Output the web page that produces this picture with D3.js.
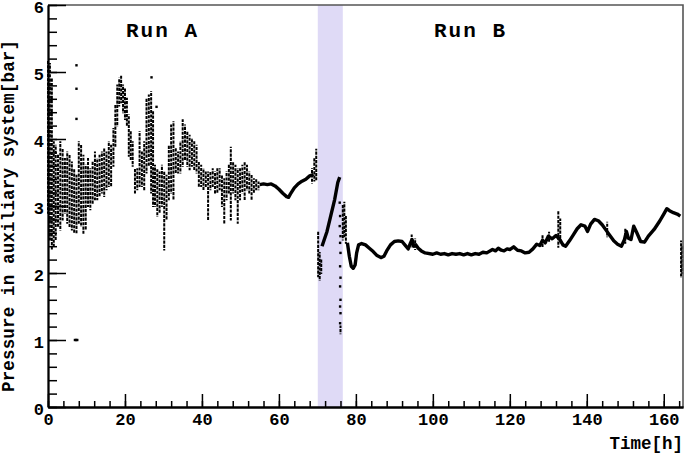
<!DOCTYPE html>
<html>
<head>
<meta charset="utf-8">
<script src="https://cdn.jsdelivr.net/npm/d3@7"></script>
<style>
  body { margin: 0; background: #fff; }
  svg { display: block; }
</style>
</head>
<body>
<div id="chart"></div>
<script>
// time window of the second gas filling (shaded band), hours
const bandRange = [70.1, 76.6];

// Run A: noisy readings, one entry per time slice: [time, lowest, highest]
const runAStreaks = [
  [0.0, 2.9, 5.15], [0.5, 2.5, 5.12], [1.0, 2.35, 4.9], [1.5, 2.4, 3.95],
  [2.0, 2.5, 3.9], [2.6, 2.7, 3.75], [3.2, 2.65, 3.95], [3.8, 2.8, 3.85],
  [4.4, 2.9, 3.7], [5.0, 2.75, 3.8], [5.6, 2.7, 3.75], [6.2, 2.65, 3.65],
  [6.8, 2.6, 3.55], [7.4, 2.6, 3.45], [8.0, 2.75, 3.95], [8.6, 2.7, 3.9],
  [9.2, 2.6, 3.75], [9.8, 2.65, 3.6], [10.4, 3.0, 3.7], [11.0, 2.95, 3.55],
  [11.6, 3.05, 3.65], [12.2, 3.1, 3.8], [12.8, 3.1, 3.7], [13.4, 3.15, 3.75],
  [14.0, 3.2, 3.8], [14.6, 3.15, 3.85], [15.2, 3.25, 3.8], [15.8, 3.3, 3.95],
  [16.4, 3.3, 3.9], [17.0, 3.6, 4.15], [17.5, 3.9, 4.5], [18.0, 4.2, 4.8],
  [18.5, 4.5, 4.9], [19.0, 4.55, 4.93], [19.5, 4.4, 4.8], [20.0, 4.3, 4.75],
  [20.5, 4.2, 4.6], [21.0, 3.75, 4.35], [21.5, 3.7, 4.1], [22.0, 3.6, 3.95],
  [22.6, 3.2, 3.55], [23.2, 3.25, 3.55], [23.8, 3.3, 4.1], [24.4, 3.3, 3.8],
  [25.0, 3.25, 3.95], [25.6, 3.5, 4.6], [26.2, 3.6, 4.65], [26.8, 3.2, 4.7],
  [27.3, 3.0, 4.4], [27.8, 3.0, 3.6], [28.4, 2.85, 3.55], [29.0, 2.9, 3.5],
  [29.6, 3.0, 3.6], [30.2, 2.35, 3.5], [30.8, 2.8, 3.45], [31.4, 3.1, 3.9],
  [32.0, 3.2, 4.2], [32.6, 3.1, 4.25], [33.2, 3.5, 3.85], [33.8, 3.5, 3.8],
  [34.4, 3.5, 3.95], [35.0, 3.6, 4.28], [35.6, 3.7, 4.2], [36.2, 3.6, 4.1],
  [36.8, 3.55, 4.05], [37.4, 3.6, 4.0], [38.0, 3.55, 3.95], [38.6, 3.5, 3.9],
  [39.2, 3.3, 3.65], [39.8, 3.3, 3.6], [40.4, 3.25, 3.55], [41.0, 3.3, 3.5],
  [41.6, 2.8, 3.5], [42.2, 3.25, 3.5], [42.8, 3.3, 3.55], [43.4, 3.2, 3.5],
  [44.0, 3.2, 3.55], [44.6, 3.25, 3.55], [45.2, 3.0, 3.45], [45.8, 2.75, 3.4],
  [46.4, 3.1, 3.5], [47.0, 3.2, 3.6], [47.5, 2.8, 3.87], [48.1, 3.2, 3.65],
  [48.7, 3.1, 3.6], [49.3, 2.75, 3.55], [49.9, 3.1, 3.55], [50.5, 3.2, 3.6],
  [51.1, 3.1, 3.65], [51.7, 3.25, 3.6], [52.3, 3.2, 3.5], [52.9, 3.1, 3.45],
  [53.5, 3.2, 3.4], [54.1, 3.25, 3.4], [54.7, 3.25, 3.35],
  [68.6, 3.35, 3.55], [69.2, 3.38, 3.7], [69.7, 3.4, 3.84]
];

// Run A: quiet stretch before the stop, [time, pressure]
const runALine = [
  [55, 3.32], [56, 3.33], [57, 3.32], [58, 3.33], [59, 3.3], [60, 3.25],
  [61, 3.19], [62, 3.14], [62.5, 3.13], [63, 3.18], [64, 3.27], [65, 3.33],
  [66, 3.37], [67, 3.4], [68, 3.45], [69, 3.47]
];

// refill inside the shaded band
const fillStreaks = [
  [70.2, 1.95, 2.6], [70.6, 1.9, 2.3], [71.0, 2.0, 2.2], [76.0, 1.1, 1.2]
];
const fillLine = [
  [71.2, 2.4], [72.5, 2.62], [73.5, 2.86], [74.5, 3.1], [75.3, 3.35], [75.8, 3.43]
];

// Run B: [time, pressure]
const runBLine = [
  [77.8, 2.45], [78.3, 2.25], [78.8, 2.1], [79.3, 2.07], [79.8, 2.12], [80.2, 2.3],
  [80.7, 2.42], [81.5, 2.44], [82.5, 2.42], [83.5, 2.37], [84.5, 2.32], [85.5, 2.26],
  [86.5, 2.23], [87.3, 2.25], [88, 2.33], [89, 2.42], [90, 2.47], [91, 2.48],
  [92, 2.47], [93, 2.4], [93.6, 2.36], [94.2, 2.45], [94.6, 2.5], [95, 2.4],
  [95.6, 2.42], [96.2, 2.37], [97, 2.33], [98, 2.3], [100, 2.28], [101, 2.3],
  [102, 2.28], [103, 2.29], [104, 2.27], [105, 2.29], [106, 2.28], [107, 2.29],
  [108, 2.27], [109, 2.29], [110, 2.27], [111, 2.29], [112, 2.28], [113, 2.31],
  [114, 2.3], [115.5, 2.35], [116.3, 2.33], [117, 2.37], [117.8, 2.34], [118.5, 2.33],
  [119.3, 2.36], [120, 2.35], [121, 2.39], [122, 2.34], [123, 2.33], [124, 2.3],
  [125, 2.31], [126, 2.36], [127, 2.43], [127.8, 2.41], [128.5, 2.49], [129.2, 2.45],
  [130, 2.55], [131, 2.51], [132, 2.56], [133, 2.5], [133.8, 2.42], [134.5, 2.4],
  [135.5, 2.48], [136.5, 2.57], [137.5, 2.66], [138.5, 2.72], [139.5, 2.7],
  [140.2, 2.62], [141, 2.73], [142, 2.8], [143, 2.78], [144, 2.72], [145, 2.64],
  [146, 2.56], [147, 2.48], [148, 2.43], [149, 2.4], [149.8, 2.5], [150.3, 2.62],
  [150.8, 2.52], [151.5, 2.5], [152.2, 2.7], [153, 2.6], [154, 2.47], [155, 2.46],
  [156, 2.55], [157.5, 2.65], [159, 2.78], [160, 2.88], [160.8, 2.96], [161.5, 2.93],
  [162.5, 2.9], [163.5, 2.88], [164.3, 2.85]
];
const runBStreaks = [
  [76.6, 2.5, 3.0], [77.0, 2.55, 3.05], [77.4, 2.45, 2.85], [94.5, 2.4, 2.56],
  [95.4, 2.36, 2.5], [128.5, 2.4, 2.55], [130.2, 2.48, 2.6], [132.6, 2.39, 2.92],
  [133.1, 2.45, 2.8], [145.3, 2.55, 2.75], [150.0, 2.45, 2.65], [164.5, 1.94, 2.47],
  [164.8, 2.0, 2.4]
];

// single readings away from the bulk, [time, pressure]
const isolatedPoints = [
  [7.4, 5.1], [7.4, 4.75], [7.4, 4.3], [7.0, 1.0], [7.3, 1.0], [7.6, 1.0],
  [26.9, 4.92], [28.2, 4.48],
  [75.8, 3.05], [75.9, 2.85], [75.8, 2.7], [76.0, 2.55], [75.9, 2.45], [76.0, 2.3],
  [75.9, 2.1], [76.0, 1.93], [75.9, 1.8], [76.0, 1.6], [75.9, 1.5], [76.0, 1.4],
  [75.9, 1.25]
];

const W = 685, H = 453;
const plot = { left: 48, right: 683, top: 5, bottom: 407 };
const monoFont = "'Liberation Mono', 'DejaVu Sans Mono', monospace";

const svg = d3.select("#chart").append("svg")
  .attr("width", W)
  .attr("height", H);

const x = d3.scaleLinear().domain([0, 165]).range([plot.left, plot.right]);
const y = d3.scaleLinear().domain([0, 6]).range([plot.bottom, plot.top]);

// shaded band
svg.append("rect")
  .attr("x", x(bandRange[0]))
  .attr("y", plot.top)
  .attr("width", x(bandRange[1]) - x(bandRange[0]))
  .attr("height", plot.bottom - plot.top)
  .attr("fill", "#dfdaf6");

// data marks
const marks = svg.append("g");

function drawStreaks(data) {
  marks.selectAll(null)
    .data(data)
    .enter()
    .append("line")
    .attr("x1", d => x(d[0]))
    .attr("x2", d => x(d[0]))
    .attr("y1", d => y(d[2]) - 1)
    .attr("y2", d => y(d[1]) + 1)
    .attr("stroke", "#000")
    .attr("stroke-width", 2)
    .attr("stroke-dasharray", "3.2,1.1")
    .attr("stroke-dashoffset", (d, i) => (i * 1.7) % 4.3);
}

function drawLine(data) {
  marks.append("path")
    .datum(data)
    .attr("fill", "none")
    .attr("stroke", "#000")
    .attr("stroke-width", 3.4)
    .attr("stroke-linejoin", "round")
    .attr("d", d3.line().x(d => x(d[0])).y(d => y(d[1])));
}

drawStreaks(runAStreaks);
drawLine(runALine);
drawStreaks(fillStreaks);
drawLine(fillLine);
drawStreaks(runBStreaks);
drawLine(runBLine);

marks.selectAll(null)
  .data(isolatedPoints)
  .enter()
  .append("rect")
  .attr("x", d => x(d[0]) - 1.2)
  .attr("y", d => y(d[1]) - 1.2)
  .attr("width", 2.4)
  .attr("height", 2.4)
  .attr("fill", "#000");

// frame: top and right
svg.append("path")
  .attr("d", `M${plot.left},${plot.top}H${plot.right}V${plot.bottom}`)
  .attr("fill", "none")
  .attr("stroke", "#555")
  .attr("stroke-width", 1.6);

// x axis (ticks point inward)
const xMinor = d3.range(0, 165.01, 4);
svg.append("g")
  .attr("transform", `translate(0,${plot.bottom})`)
  .call(d3.axisBottom(x).tickValues(xMinor).tickSize(-6).tickSizeOuter(0).tickFormat(""));
svg.append("g")
  .attr("transform", `translate(0,${plot.bottom})`)
  .call(d3.axisBottom(x).tickValues(d3.range(0, 161, 20)).tickSize(-13)
    .tickSizeOuter(0).tickPadding(6).tickFormat(d3.format("d")));

// y axis
const yMinor = d3.range(0, 30.01, 1).map(i => i / 5);
svg.append("g")
  .attr("transform", `translate(${plot.left},0)`)
  .call(d3.axisLeft(y).tickValues(yMinor).tickSize(-9).tickSizeOuter(0).tickFormat(""));
const yAxis = svg.append("g")
  .attr("transform", `translate(${plot.left},0)`)
  .call(d3.axisLeft(y).tickValues(d3.range(0, 7)).tickSize(-18)
    .tickSizeOuter(0).tickPadding(4).tickFormat(d3.format("d")));
// labels sit slightly below their ticks, as in the original
yAxis.selectAll(".tick text").attr("dy", "0.42em");

svg.selectAll(".domain").attr("stroke", "#000").attr("stroke-width", 1.8);
svg.selectAll(".tick line").attr("stroke", "#000").attr("stroke-width", 1.5);
svg.selectAll(".tick text")
  .attr("font-family", monoFont)
  .attr("font-weight", "bold")
  .attr("font-size", 17)
  .attr("fill", "#000");

// axis titles
svg.append("text")
  .attr("x", plot.right)
  .attr("y", 449)
  .attr("text-anchor", "end")
  .attr("font-family", monoFont)
  .attr("font-weight", "bold")
  .attr("font-size", 17.5)
  .text("Time[h]");

svg.append("text")
  .attr("transform", "translate(14,40) rotate(-90)")
  .attr("text-anchor", "end")
  .attr("font-family", monoFont)
  .attr("font-weight", "bold")
  .attr("font-size", 17.5)
  .attr("textLength", 352)
  .attr("lengthAdjust", "spacing")
  .text("Pressure in auxiliary system[bar]");

// run labels
[["Run A", 126], ["Run B", 434]].forEach(([label, px]) => {
  svg.append("text")
    .attr("x", px)
    .attr("y", 37)
    .attr("font-family", monoFont)
    .attr("font-weight", "bold")
    .attr("font-size", 21)
    .attr("textLength", 71)
    .attr("lengthAdjust", "spacing")
    .text(label);
});
</script>
</body>
</html>
